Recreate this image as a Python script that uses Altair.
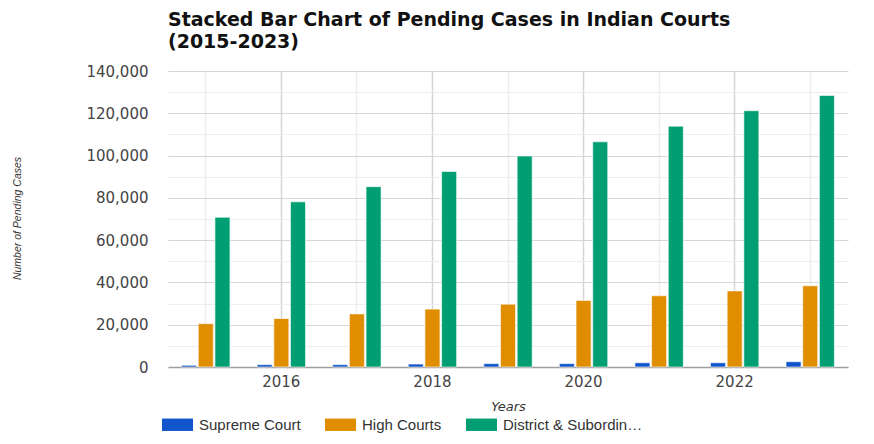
import altair as alt
import pandas as pd

years = [2015, 2016, 2017, 2018, 2019, 2020, 2021, 2022, 2023]
courts = ["Supreme Court", "High Courts", "District & Subordinate Courts"]
supreme = [800, 1100, 1100, 1400, 1600, 1600, 2000, 2000, 2500]
high = [20500, 22900, 25100, 27400, 29700, 31500, 33700, 36000, 38400]
district = [70800, 78100, 85300, 92500, 99800, 106500, 113900, 121200, 128400]
colors = ["#1155CC", "#E08D00", "#009E73"]

rows = []
for i, y in enumerate(years):
    for c, vals in zip(courts, [supreme, high, district]):
        rows.append({"Year": y, "Court": c, "Cases": vals[i]})
df = pd.DataFrame(rows)

font = "Liberation Sans"
wide = "DejaVu Sans"

chart = alt.Chart(df).mark_bar(stroke="white", strokeWidth=0.6).encode(
    x=alt.X("Year:O",
            scale=alt.Scale(paddingInner=0.36, paddingOuter=0.18),
            axis=alt.Axis(title="Years", labelAngle=0, ticks=False, domain=True,
                          domainColor="#9e9e9e", domainWidth=1.5,
                          bandPosition=0.5,
                          labelExpr="datum.value % 2 == 0 ? datum.label : ''",
                          labelFont=wide, labelFontSize=15, labelColor="#444444",
                          labelPadding=7,
                          titleFont=wide, titleFontSize=13, titleFontStyle="italic",
                          titleFontWeight="normal", titleColor="#333333", titlePadding=11,
                          grid=True,
                          gridColor=alt.condition("datum.value % 2 == 0", alt.value("#d6d6d6"), alt.value("#eeeeee")),
                          gridWidth=1.5)),
    xOffset=alt.XOffset("Court:N", sort=courts, scale=alt.Scale(paddingInner=0.1)),
    y=alt.Y("Cases:Q",
            scale=alt.Scale(domain=[0, 140000], nice=False),
            axis=alt.Axis(title="Number of Pending Cases",
                          values=list(range(0, 140001, 10000)),
                          labelExpr="datum.value % 20000 == 0 ? format(datum.value, ',') : ''",
                          ticks=False, domain=False,
                          labelFont=wide, labelFontSize=15, labelColor="#444444",
                          labelPadding=20,
                          titleFont=font, titleFontSize=10.5,
                          titleFontStyle="italic", titleFontWeight="normal",
                          titleColor="#333333", titleX=-146, titleY=147,
                          gridColor=alt.condition("datum.value % 20000 == 0", alt.value("#d6d6d6"), alt.value("#eeeeee")),
                          gridWidth=1.2)),
    color=alt.Color("Court:N", sort=courts,
                    scale=alt.Scale(domain=courts, range=colors),
                    legend=alt.Legend(title=None, orient="none", direction="horizontal",
                                      legendX=-6, legendY=338,
                                      symbolType="M-1,-0.4H1V0.4H-1Z", symbolSize=961,
                                      symbolStrokeWidth=0, symbolOpacity=1,
                                      labelFont=font, labelFontSize=15, labelColor="#333333",
                                      labelLimit=142, labelOffset=6, columnPadding=24)),
).properties(
    width=680, height=296,
    title=alt.TitleParams(["Stacked Bar Chart of Pending Cases in Indian Courts", "(2015-2023)"],
                          anchor="start", frame="group", font=wide, fontSize=19, fontWeight="bold",
                          color="#111111", offset=12, lineHeight=22),
    autosize=alt.AutoSizeParams(type="none"),
    padding={"left": 160, "top": 63, "right": 18, "bottom": 69},
).configure_view(stroke=None)

chart.save("out.html", embed_options={"renderer": "svg", "actions": False})
